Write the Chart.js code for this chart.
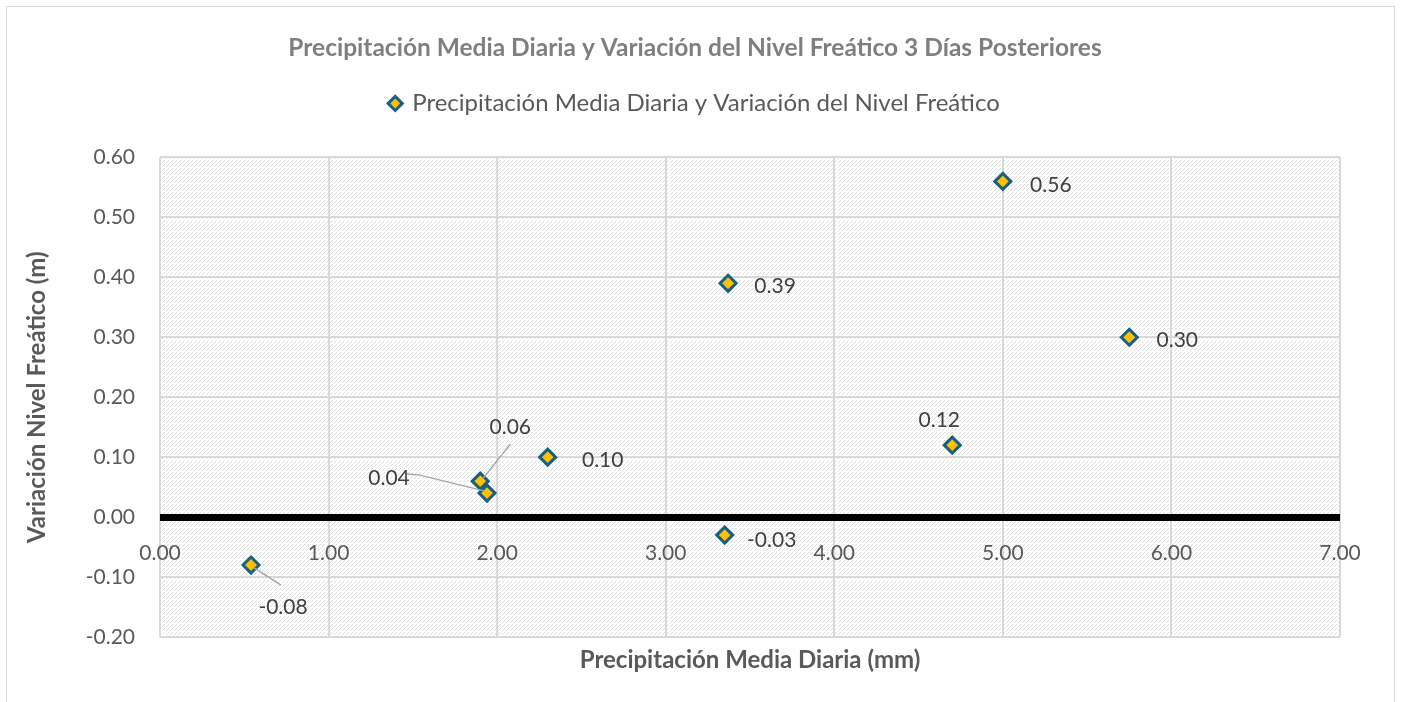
<!DOCTYPE html>
<html>
<head>
<meta charset="utf-8">
<script src="https://cdn.jsdelivr.net/npm/chart.js@4.4.1/dist/chart.umd.min.js"></script>
<style>
  html, body { margin: 0; padding: 0; background: #fff; }
  #wrap { width: 1401px; height: 702px; }
</style>
</head>
<body>
<div id="wrap"><canvas id="myChart" width="1401" height="702"></canvas></div>
<script>
// datos
const precipitacion = [0.54, 1.90, 1.94, 2.30, 3.37, 3.35, 5.00, 4.70, 5.75];
const variacionNivel = [-0.08, 0.06, 0.04, 0.10, 0.39, -0.03, 0.56, 0.12, 0.30];
const xTicks = [0, 1, 2, 3, 4, 5, 6, 7];
const yTicks = [-0.2, -0.1, 0, 0.1, 0.2, 0.3, 0.4, 0.5, 0.6];

// posicion de las etiquetas (px respecto al punto) y lineas guia
const labelOffsets = [[32, 42], [30, -54], [-98, -15], [55, 3], [47, 3], [47, 5], [48, 4], [-13, -25], [48, 3]];
const leaderLines = [
  [[2, 2], [30, 20]],
  [[3, -3], [30, -37]],
  [[-80, -19], [-67, -18], [-2, -2]],
  null, null, null, null, null, null
];

const FONT = 'Lato, "Noto Sans", sans-serif';

// fondo con trama punteada
function makePattern() {
  const c = document.createElement('canvas');
  c.width = 8; c.height = 8;
  const g = c.getContext('2d');
  g.fillStyle = '#ffffff';
  g.fillRect(0, 0, 8, 8);
  g.fillStyle = '#dedede';
  for (let y = 0; y < 8; y++) {
    for (let x = 0; x < 8; x++) {
      if ((x - y + 16) % 4 === 0 && (x % 2 === 0)) g.fillRect(x, y, 1, 1);
      if ((x - y + 16) % 4 === 2 && (x % 2 === 1) && y % 4 === 1) g.fillRect(x, y, 1, 1);
    }
  }
  return c;
}

const backgroundPlugin = {
  id: 'fondo',
  beforeDraw(chart) {
    const {ctx, chartArea} = chart;
    ctx.save();
    ctx.fillStyle = '#fff';
    ctx.fillRect(0, 0, chart.width, chart.height);
    ctx.strokeStyle = '#d9d9d9';
    ctx.lineWidth = 1;
    ctx.strokeRect(6.5, 6.5, chart.width - 13, chart.height + 10);
    ctx.fillStyle = ctx.createPattern(makePattern(), 'repeat');
    ctx.fillRect(chartArea.left, chartArea.top, chartArea.right - chartArea.left, chartArea.bottom - chartArea.top);
    ctx.restore();
  }
};

const labelsPlugin = {
  id: 'etiquetas',
  afterDatasetsDraw(chart) {
    const {ctx} = chart;
    const meta = chart.getDatasetMeta(0);
    ctx.save();
    meta.data.forEach((pt, i) => {
      const lines = leaderLines[i];
      if (lines) {
        ctx.strokeStyle = '#a6a6a6';
        ctx.lineWidth = 1.5;
        ctx.beginPath();
        lines.forEach((p, j) => {
          if (j === 0) ctx.moveTo(pt.x + p[0], pt.y + p[1]);
          else ctx.lineTo(pt.x + p[0], pt.y + p[1]);
        });
        ctx.stroke();
      }
      const off = labelOffsets[i];
      ctx.fillStyle = '#404040';
      ctx.font = '21px ' + FONT;
      ctx.textAlign = 'center';
      ctx.textBaseline = 'middle';
      ctx.fillText(variacionNivel[i].toFixed(2), pt.x + off[0], pt.y + off[1]);
    });
    ctx.restore();
  },
  afterInit(chart) {
    // espacio extra bajo la leyenda
    const fit = chart.legend.fit;
    chart.legend.fit = function () { fit.call(this); this.height += 32; };
  }
};

const context = document.getElementById('myChart').getContext('2d');
const myChart = new Chart(context, {
  type: 'scatter',
  data: {
    datasets: [{
      label: 'Precipitación Media Diaria y Variación del Nivel Freático',
      data: precipitacion.map((x, i) => ({x: x, y: variacionNivel[i]})),
      pointStyle: 'rectRot',
      pointRadius: 8,
      pointHoverRadius: 8,
      backgroundColor: '#FFC000',
      borderColor: '#175f83',
      borderWidth: 3
    }]
  },
  options: {
    responsive: false,
    animation: false,
    layout: { padding: { left: 50, right: 61, top: 0, bottom: 0 } },
    plugins: {
      title: {
        display: true,
        text: 'Precipitación Media Diaria y Variación del Nivel Freático 3 Días Posteriores',
        color: '#7f7f7f',
        font: { family: FONT, size: 24.5, weight: 'bold' },
        padding: { top: 33, bottom: 19 }
      },
      legend: {
        display: true,
        labels: {
          usePointStyle: true,
          boxWidth: 10,
          boxHeight: 10,
          color: '#595959',
          font: { family: FONT, size: 24 },
          padding: 10
        }
      },
      tooltip: { enabled: false }
    },
    scales: {
      x: {
        type: 'linear',
        position: 'bottom',
        min: xTicks[0],
        max: xTicks[xTicks.length - 1],
        afterBuildTicks: s => { s.ticks = xTicks.map(v => ({value: v})); },
        ticks: { display: false },
        grid: { color: '#d9d9d9', lineWidth: 2, drawTicks: false },
        border: { display: false },
        title: {
          display: true,
          text: 'Precipitación Media Diaria (mm)',
          color: '#595959',
          font: { family: FONT, size: 24, weight: 'bold' },
          padding: { top: 0, bottom: 27 }
        },
        afterFit: s => { s.height = 65; }
      },
      xCero: {
        type: 'linear',
        axis: 'x',
        position: { y: 0 },
        min: xTicks[0],
        max: xTicks[xTicks.length - 1],
        afterBuildTicks: s => { s.ticks = xTicks.map(v => ({value: v})); },
        ticks: {
          color: '#595959',
          font: { family: FONT, size: 21 },
          padding: 24,
          maxRotation: 0,
          callback: v => Number(v).toFixed(2)
        },
        grid: { display: false, drawTicks: false },
        border: { display: false },
        afterFit: s => { s.height = 0; }
      },
      y: {
        type: 'linear',
        min: yTicks[0],
        max: yTicks[yTicks.length - 1],
        afterBuildTicks: s => { s.ticks = yTicks.map(v => ({value: v})); },
        ticks: {
          color: '#595959',
          font: { family: FONT, size: 21 },
          padding: 25,
          callback: v => Number(v).toFixed(2)
        },
        grid: {
          drawTicks: false,
          color: c => Math.abs(c.tick.value) < 1e-9 ? '#000000' : '#d9d9d9',
          lineWidth: c => Math.abs(c.tick.value) < 1e-9 ? 7 : 2
        },
        border: { display: false },
        title: {
          display: true,
          text: 'Variación Nivel Freático (m)',
          color: '#595959',
          font: { family: FONT, size: 24, weight: 'bold' },
          padding: { top: -27, bottom: 0 }
        },
        afterFit: s => { s.width = 110; }
      }
    }
  },
  plugins: [backgroundPlugin, labelsPlugin]
});
</script>
</body>
</html>
